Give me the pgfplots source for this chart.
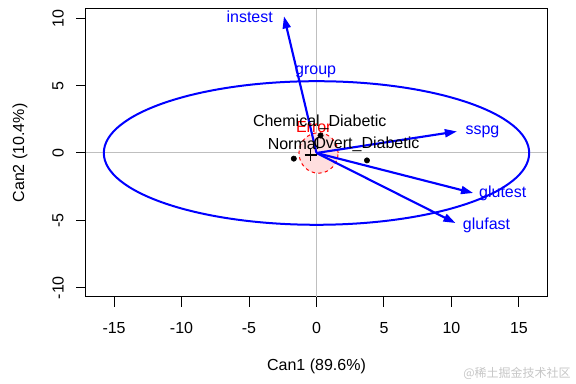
\documentclass[border=0pt]{standalone}
\usepackage{fontspec}
\setmainfont{Liberation Sans}
\newfontfamily\cjk{Noto Sans CJK SC}
\usepackage{pgfplots}
\pgfplotsset{compat=1.18}
\usetikzlibrary{arrows.meta}
\begin{document}
\begin{tikzpicture}[font=\fontsize{12}{14}\selectfont]
\begin{axis}[
  at={(64.5pt,65.25pt)}, anchor=south west,
  scale only axis, width=345.75pt, height=216pt,
  xmin=-17.08, xmax=17.08, ymin=-10.69, ymax=10.69,
  axis line style={line width=0.75pt},
  tick style={black, line width=0.75pt},
  tick align=outside, major tick length=7.2pt,
  xtick pos=bottom, ytick pos=left,
  xtick={-15,-10,-5,0,5,10,15},
  xticklabels={-15,-10,-5,0,5,10,15},
  ytick={-10,-5,0,5,10},
  yticklabels={-10,-5,0,5,10},
  xticklabel style={anchor=center, yshift=-15.8pt},
  yticklabel style={rotate=90, anchor=center, yshift=13.8pt},
  xlabel={Can1 (89.6\%)}, ylabel={Can2 (10.4\%)},
  every axis x label/.style={at={(axis description cs:0.5,-0.2396)}, anchor=center},
  every axis y label/.style={at={(axis description cs:-0.1432,0.5)}, rotate=90, anchor=center},
  clip=false,
]
% reference lines at zero
\addplot[gray!50, line width=0.75pt] coordinates {(0,-10.69) (0,10.69)};
\addplot[gray!50, line width=0.75pt] coordinates {(-17.08,0) (17.08,0)};
% group (H) ellipse
\draw[blue, line width=1.5pt] (axis cs:0,0) ellipse [x radius=15.76, y radius=5.33];
% error ellipse
\draw[red, dash pattern=on 2.5pt off 2.5pt, fill=red!13, line width=0.75pt] (axis cs:0.15,0) ellipse [x radius=1.45, y radius=1.5];
% group means
\addplot[only marks, mark=*, mark size=2pt, black] coordinates {(0.3,1.3) (-1.68,-0.42) (3.74,-0.55)};
\addplot[only marks, mark=+, mark size=4.5pt, black, line width=0.9pt] coordinates {(-0.43,-0.15)};
% structure vectors
\addplot[blue, line width=1.6pt, -{Stealth[length=9pt, width=6pt, inset=0pt]}] coordinates {(0,0) (-2.41,10.14)};
\addplot[blue, line width=1.6pt, -{Stealth[length=9pt, width=6pt, inset=0pt]}] coordinates {(0,0) (10.4,1.6)};
\addplot[blue, line width=1.6pt, -{Stealth[length=9pt, width=6pt, inset=0pt]}] coordinates {(0,0) (11.6,-2.97)};
\addplot[blue, line width=1.6pt, -{Stealth[length=9pt, width=6pt, inset=0pt]}] coordinates {(0,0) (10.3,-5.2)};
% labels
\node[blue] at (axis cs:-4.95,10.12) {instest};
\node[blue] at (axis cs:12.3,1.56) {sspg};
\node[blue] at (axis cs:13.8,-2.97) {glutest};
\node[blue] at (axis cs:12.6,-5.35) {glufast};
\node[blue] at (axis cs:-0.06,6.01) {group};
\node[red] at (axis cs:-0.2,1.93) {Error};
\node[black] at (axis cs:0.24,2.3) {Chemical\_Diabetic};
\node[black] at (axis cs:-1.7,0.67) {Normal};
\node[black] at (axis cs:3.7,0.67) {Overt\_Diabetic};
\end{axis}
\node[gray!45, font=\cjk\fontsize{9}{10}\selectfont] at (387.75pt,8.25pt) {@稀土掘金技术社区};
\pgfresetboundingbox
\path (0,0) rectangle (432pt,288pt);
\end{tikzpicture}
\end{document}
